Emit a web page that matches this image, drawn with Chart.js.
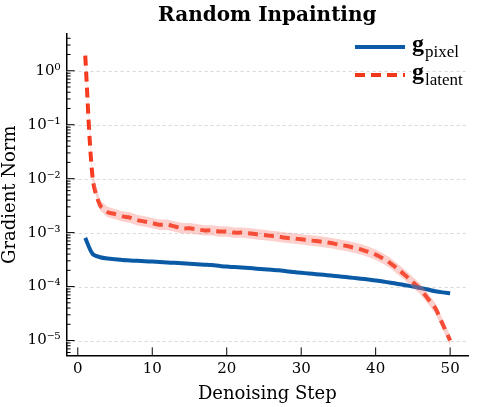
<!DOCTYPE html>
<html>
<head>
<meta charset="utf-8">
<script src="https://cdn.jsdelivr.net/npm/chart.js@4"></script>
<style>
  body { margin: 0; background: #fff; }
  #wrap { width: 478px; height: 407px; }
</style>
</head>
<body>
<div id="wrap"><canvas id="c"></canvas></div>
<script>
const steps = Array.from({ length: 50 }, (_, i) => i + 1);
const pixelNorm = [
  8e-4, 4e-4, 3.5e-4, 3.3e-4, 3.2e-4, 3.1e-4, 3.05e-4, 3e-4, 2.95e-4, 2.9e-4,
  2.85e-4, 2.8e-4, 2.75e-4, 2.7e-4, 2.65e-4, 2.6e-4, 2.55e-4, 2.5e-4, 2.42e-4, 2.35e-4,
  2.3e-4, 2.25e-4, 2.2e-4, 2.15e-4, 2.1e-4, 2.05e-4, 2e-4, 1.92e-4, 1.86e-4, 1.8e-4,
  1.75e-4, 1.7e-4, 1.65e-4, 1.6e-4, 1.55e-4, 1.5e-4, 1.45e-4, 1.4e-4, 1.35e-4, 1.3e-4,
  1.24e-4, 1.18e-4, 1.12e-4, 1.06e-4, 1e-4, 9.4e-5, 8.8e-5, 8.2e-5, 7.8e-5, 7.5e-5
];
const latentNorm = [
  1.9, 0.01, 0.0032, 0.0024, 0.0022, 0.002, 0.0019, 0.0017, 0.0016, 0.0015,
  0.0014, 0.0014, 0.0013, 0.0012, 0.0012, 0.00115, 0.0011, 0.0011, 0.00105, 0.00105,
  0.001, 0.001, 0.00097, 0.00093, 0.0009, 0.00087, 0.00084, 0.0008, 0.00078, 0.00075,
  0.00072, 0.0007, 0.00067, 0.00064, 0.0006, 0.00057, 0.00053, 0.00049, 0.00044, 0.00039,
  0.00033, 0.00027, 0.00021, 0.00016, 0.00012, 0.00009, 0.00006, 0.00004, 0.00002, 0.00001
];
const latentHigh = latentNorm.map((v) => v * 1.25);
const latentLow = latentNorm.map((v) => v / 1.25);
const yTicks = [1e-5, 1e-4, 1e-3, 1e-2, 1e-1, 1];
const xTicks = [0, 10, 20, 30, 40, 50];
const supers = { "-": "⁻", "0": "⁰", "1": "¹", "2": "²", "3": "³", "4": "⁴", "5": "⁵" };

function pts(arr) { return arr.map((v, i) => ({ x: steps[i], y: v })); }
function expLabel(v) {
  const e = String(Math.round(Math.log10(v)));
  return "10" + e.split("").map((ch) => supers[ch]).join("");
}

// dashed grid under the data
const grid = {
  id: "grid",
  beforeDatasetsDraw(chart) {
    const ctx = chart.ctx, y = chart.scales.y, x = chart.scales.x;
    ctx.save();
    ctx.strokeStyle = "#d8d8d8"; ctx.lineWidth = 1; ctx.setLineDash([3, 3]);
    yTicks.forEach((t) => {
      const py = Math.round(y.getPixelForValue(t)) + 0.5;
      ctx.beginPath(); ctx.moveTo(x.left, py); ctx.lineTo(x.right, py); ctx.stroke();
    });
    ctx.restore();
  },
};

// title, inward ticks and the legend with subscripts
const extras = {
  id: "extras",
  afterDraw(chart) {
    const ctx = chart.ctx;
    const y = chart.scales.y, x = chart.scales.x;
    ctx.save();
    ctx.fillStyle = "#000"; ctx.textAlign = "center"; ctx.textBaseline = "alphabetic";
    ctx.font = "bold 20px 'DejaVu Serif'";
    ctx.fillText("Random Inpainting", (x.left + x.right) / 2, 21);
    ctx.textAlign = "left";
    ctx.strokeStyle = "#000";
    ctx.lineWidth = 1;
    for (let e = -6; e <= 0; e++) {
      for (let m = 1; m <= 9; m++) {
        const v = m * Math.pow(10, e);
        if (v < y.min || v > y.max) continue;
        const py = y.getPixelForValue(v);
        const len = m === 1 ? 8 : 4;
        ctx.beginPath(); ctx.moveTo(x.left, py); ctx.lineTo(x.left + len, py); ctx.stroke();
      }
    }
    xTicks.forEach((t) => {
      const px = x.getPixelForValue(t);
      ctx.beginPath(); ctx.moveTo(px, x.top); ctx.lineTo(px, x.top - 8); ctx.stroke();
    });
    const lx = 355, entries = [
      { y: 47, color: "#0b5aa6", dash: [], sub: "pixel" },
      { y: 75, color: "#f5361a", dash: [10, 6], sub: "latent" },
    ];
    entries.forEach((en) => {
      ctx.strokeStyle = en.color; ctx.lineWidth = 4; ctx.setLineDash(en.dash);
      ctx.beginPath(); ctx.moveTo(lx, en.y); ctx.lineTo(lx + 50, en.y); ctx.stroke();
      ctx.setLineDash([]);
      ctx.fillStyle = "#000";
      ctx.font = "bold 24px 'Liberation Serif'";
      ctx.fillText("g", lx + 57, en.y + 4);
      ctx.font = "17px 'Liberation Serif'";
      ctx.fillText(en.sub, lx + 70, en.y + 10);
    });
    ctx.restore();
  },
};

new Chart(document.getElementById("c"), {
  type: "line",
  data: {
    datasets: [
      { data: pts(latentHigh), borderWidth: 0, pointRadius: 0, fill: false, backgroundColor: "rgba(245,120,110,0.35)" },
      { data: pts(latentLow), borderWidth: 0, pointRadius: 0, fill: "-1", backgroundColor: "rgba(245,120,110,0.35)" },
      { data: pts(pixelNorm), borderColor: "#0b5aa6", borderWidth: 4, pointRadius: 0, tension: 0.3 },
      { data: pts(latentNorm), borderColor: "#f5361a", borderWidth: 4, borderDash: [10, 6], pointRadius: 0, tension: 0.3 },
    ],
  },
  options: {
    responsive: true,
    maintainAspectRatio: false,
    animation: false,
    layout: { padding: { top: 34, right: 10, left: 0, bottom: 2 } },
    plugins: {
      legend: { display: false },
      tooltip: { enabled: false },
    },
    scales: {
      x: {
        type: "linear", min: -1.5, max: 52.4,
        afterBuildTicks: (s) => { s.ticks = xTicks.map((v) => ({ value: v })); },
        grid: { display: false, drawTicks: false },
        border: { color: "#000", width: 1.5 },
        ticks: { color: "#000", font: { family: "DejaVu Serif", size: 15 }, padding: 5 },
        title: { display: true, text: "Denoising Step", color: "#000", font: { family: "DejaVu Serif", size: 18 }, padding: 0 },
      },
      y: {
        type: "logarithmic", min: 5.3e-6, max: 4.8,
        afterBuildTicks: (s) => { s.ticks = yTicks.map((v) => ({ value: v })); },
        grid: { display: false, drawTicks: false },
        border: { color: "#000", width: 1.5 },
        ticks: { color: "#000", font: { family: "DejaVu Serif", size: 15 }, padding: 6, callback: (v) => expLabel(v) },
        title: { display: true, text: "Gradient Norm", color: "#000", font: { family: "DejaVu Serif", size: 18 }, padding: 0 },
      },
    },
  },
  plugins: [grid, extras],
});
</script>
</body>
</html>
